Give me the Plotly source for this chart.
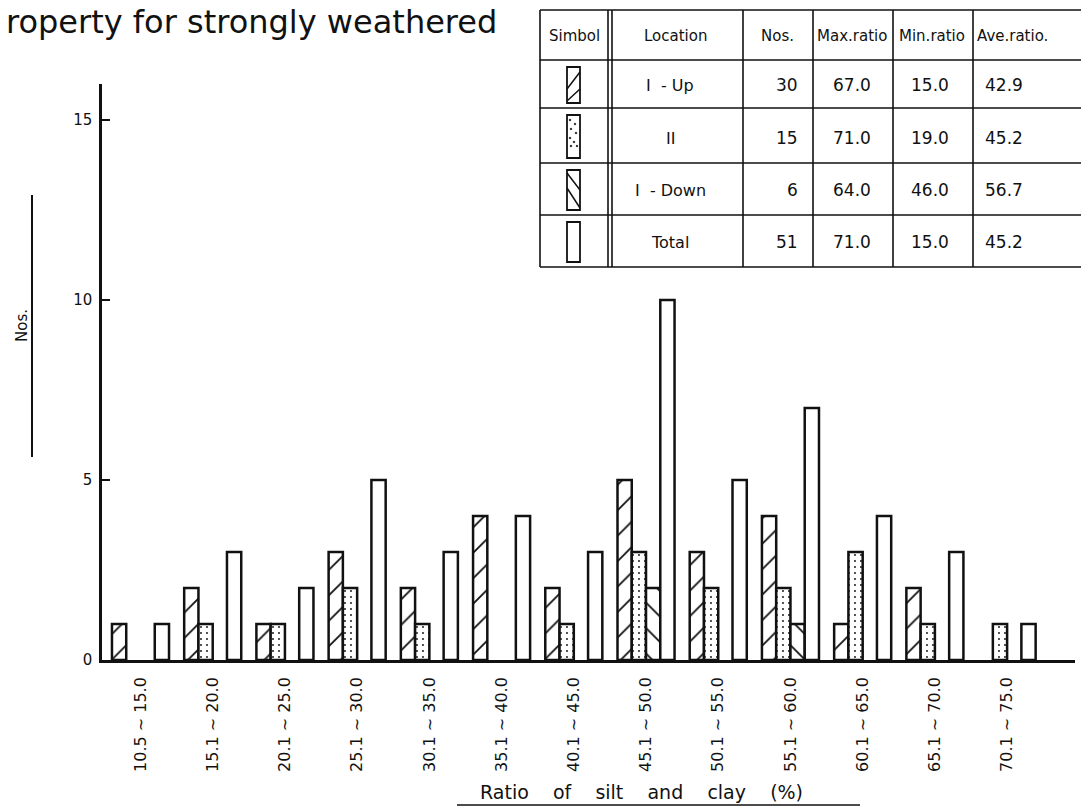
import plotly.graph_objects as go

# Class intervals of the silt + clay ratio (%)
bins = ["10.5 ~ 15.0", "15.1 ~ 20.0", "20.1 ~ 25.0", "25.1 ~ 30.0", "30.1 ~ 35.0",
        "35.1 ~ 40.0", "40.1 ~ 45.0", "45.1 ~ 50.0", "50.1 ~ 55.0", "55.1 ~ 60.0",
        "60.1 ~ 65.0", "65.1 ~ 70.0", "70.1 ~ 75.0"]

# Number of samples per interval
zone1_up = [1, 2, 1, 3, 2, 4, 2, 5, 3, 4, 1, 2, 0]
zone2 = [0, 1, 1, 2, 1, 0, 1, 3, 2, 2, 3, 1, 1]
zone1_down = [0, 0, 0, 0, 0, 0, 0, 2, 0, 1, 0, 0, 0]
total = [1, 3, 2, 5, 3, 4, 3, 10, 5, 7, 4, 3, 1]

# Summary table
tbl_header = ["Simbol", "Location", "Nos.", "Max.ratio", "Min.ratio", "Ave.ratio."]
tbl_location = ["I  - Up", "II", "I  - Down", "Total"]
tbl_nos = ["30", "15", "6", "51"]
tbl_max = ["67.0", "71.0", "64.0", "71.0"]
tbl_min = ["15.0", "19.0", "46.0", "15.0"]
tbl_ave = ["42.9", "45.2", "56.7", "45.2"]

FONT = "DejaVu Sans"
INK = "#111111"

W, H = 1081, 810
L, R, T, B = 102, 6, 84, 150
PW, PH = W - L - R, H - T - B


def px(x):
    return (x - L) / PW


def py(y):
    return (H - B - y) / PH


def nz(vals):
    return [v if v else None for v in vals]


fig = go.Figure()

series = [
    ("I - Up", zone1_up, dict(shape="/", size=18, solidity=0.1)),
    ("II", zone2, dict(shape=".", size=6, solidity=0.08)),
    ("I - Down", zone1_down, dict(shape="\\", size=18, solidity=0.1)),
    ("Total", total, None),
]
for name, vals, pat in series:
    marker = dict(color="white", line=dict(color=INK, width=2.5))
    if pat:
        marker["pattern"] = dict(fgcolor=INK, bgcolor="white", fgopacity=1,
                                 fillmode="overlay", **pat)
    fig.add_trace(go.Bar(x=bins, y=nz(vals), name=name, marker=marker,
                         showlegend=False, hoverinfo="x+y+name"))

shapes = []
annotations = []


def hline(x0, x1, y, w=1.6):
    shapes.append(dict(type="line", xref="paper", yref="paper",
                       x0=px(x0), x1=px(x1), y0=py(y), y1=py(y),
                       line=dict(color=INK, width=w)))


def vline(x, y0, y1, w=1.6):
    shapes.append(dict(type="line", xref="paper", yref="paper",
                       x0=px(x), x1=px(x), y0=py(y0), y1=py(y1),
                       line=dict(color=INK, width=w)))


def text(s, x, y, size, anchor="center", angle=0):
    annotations.append(dict(text=s, xref="paper", yref="paper", x=px(x), y=py(y),
                            xanchor=anchor, yanchor="middle", showarrow=False,
                            textangle=angle, font=dict(family=FONT, size=size, color=INK)))


# Title fragment
text("roperty for strongly weathered", 4, 22, 32, anchor="left")

# Y axis title with its rule
text("Nos.", 22, 326, 15, angle=-90)
vline(32, 195, 457, w=2)

# X axis title with underline
sp = "\u00a0\u00a0\u00a0\u00a0"
text(sp.join(["Ratio", "of", "silt", "and", "clay", "(%)"]), 641, 792, 19)
hline(457, 860, 805, w=1.6)

# Table grid
row_lines = [10, 60, 108, 163, 215, 267]
col_lines = [540, 608, 612, 743, 813, 893, 973]
for y in row_lines:
    hline(540, 1081, y)
for x in col_lines:
    vline(x, 10, 267)

head_x = [574, 675, 777, 852, 932, 1012]
for s, x in zip(tbl_header, head_x):
    text(s, x, 36, 15)

row_y = [85, 138, 190, 242]
for i, y in enumerate(row_y):
    text(tbl_location[i], 670, y, 16)
    text(tbl_nos[i], 800, y, 17, anchor="right")
    text(tbl_max[i], 852, y, 17)
    text(tbl_min[i], 930, y, 17)
    text(tbl_ave[i], 1004, y, 17)

# Symbol keys
for i, (top, bot) in enumerate(zip(row_lines[1:-1], row_lines[2:])):
    y0, y1 = top + 7, bot - 5
    x0, x1 = 567, 580
    shapes.append(dict(type="rect", xref="paper", yref="paper",
                       x0=px(x0), x1=px(x1), y0=py(y1), y1=py(y0),
                       line=dict(color=INK, width=1.8), fillcolor="white"))
    if i == 0:
        for a, b in [((x0, y0 + 22), (x1, y0 + 5)), ((x0, y1 - 2), (x1, y1 - 14))]:
            shapes.append(dict(type="line", xref="paper", yref="paper",
                               x0=px(a[0]), y0=py(a[1]), x1=px(b[0]), y1=py(b[1]),
                               line=dict(color=INK, width=1.5)))
    elif i == 1:
        for dx, dy in [(3, 5), (8, 9), (4, 14), (9, 18), (3, 23), (7, 27), (10, 31), (4, 31)]:
            shapes.append(dict(type="circle", xref="paper", yref="paper",
                               x0=px(x0 + dx - 0.8), x1=px(x0 + dx + 0.8),
                               y0=py(y0 + dy + 0.8), y1=py(y0 + dy - 0.8),
                               line=dict(color=INK, width=0.8), fillcolor=INK))
    elif i == 2:
        for a, b in [((x0, y0 + 3), (x1, y0 + 20)), ((x0, y0 + 18), (x1, y1 - 2))]:
            shapes.append(dict(type="line", xref="paper", yref="paper",
                               x0=px(a[0]), y0=py(a[1]), x1=px(b[0]), y1=py(b[1]),
                               line=dict(color=INK, width=1.5)))

fig.update_layout(
    width=W, height=H,
    margin=dict(l=L, r=R, t=T, b=B, pad=0),
    paper_bgcolor="white", plot_bgcolor="white",
    barmode="group", bargap=0.21, bargroupgap=0,
    shapes=shapes, annotations=annotations,
    font=dict(family=FONT, color=INK),
    xaxis=dict(
        type="category", range=[-0.533, 12.94],
        showline=True, linecolor=INK, linewidth=2.5,
        showgrid=False, zeroline=False, ticks="",
        tickangle=-90, tickfont=dict(family=FONT, size=16, color=INK),
        ticklabelstandoff=8,
    ),
    yaxis=dict(
        range=[0, 16], tickvals=[0, 5, 10, 15], ticktext=["0", "5", "10", "15"],
        showline=True, linecolor=INK, linewidth=2.5,
        showgrid=False, zeroline=False,
        ticks="inside", ticklen=8, tickwidth=1.5, tickcolor=INK,
        tickfont=dict(family=FONT, size=15, color=INK),
        ticklabelstandoff=4,
    ),
)

fig.write_html("out.html")
